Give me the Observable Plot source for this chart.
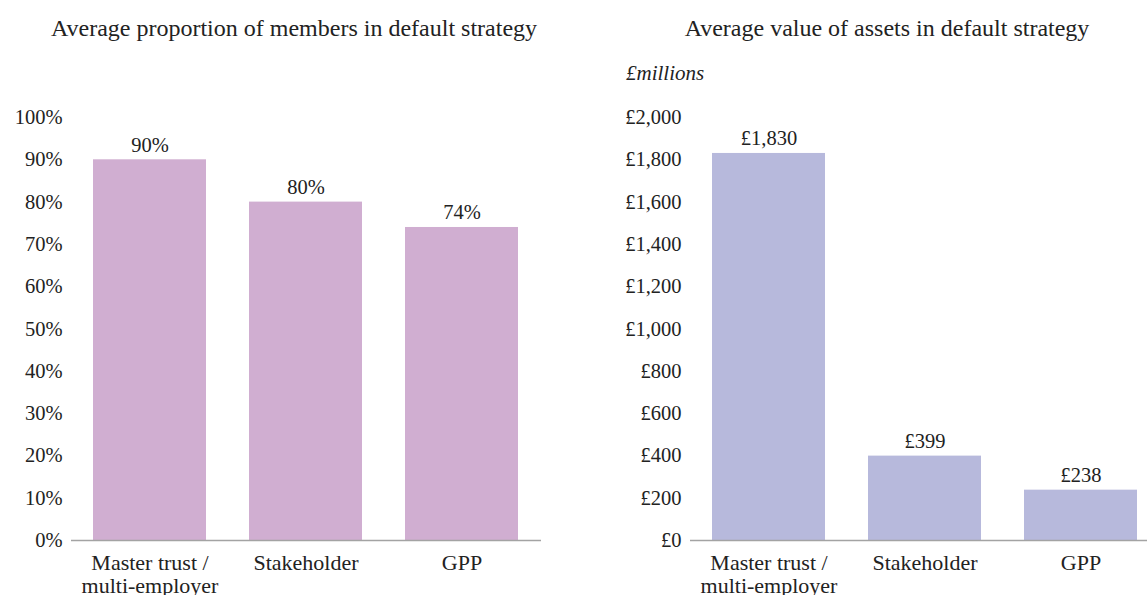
<!DOCTYPE html>
<html><head><meta charset="utf-8">
<script src="https://cdn.jsdelivr.net/npm/d3@7"></script>
<script src="https://cdn.jsdelivr.net/npm/@observablehq/plot@0.6"></script>
<style>
html,body{margin:0;padding:0;background:#fff;}
#page{position:relative;width:1147px;height:595px;overflow:hidden;font-family:"Liberation Serif",serif;color:#222;}
.sub{position:absolute;font-size:24px;line-height:24px;white-space:nowrap;transform:translateX(-50%);}
.unit{position:absolute;font-size:21px;line-height:21px;font-style:italic;white-space:nowrap;}
.panel{position:absolute;top:100px;}
#page svg{max-width:none !important;font-family:"Liberation Serif",serif !important;}
#page svg text{font-family:"Liberation Serif",serif !important;}
</style>
</head><body>
<div id="page">
  <div class="sub" style="left:294px;top:16px;">Average proportion of members in default strategy</div>
  <div class="sub" style="left:887px;top:16px;">Average value of assets in default strategy</div>
  <div class="unit" style="left:626px;top:63px;">£millions</div>
  <div class="panel" id="left" style="left:0px;width:560px;"></div>
  <div class="panel" id="right" style="left:600px;width:570px;"></div>
</div>
<script>
const categories = ["Master trust / multi-employer", "Stakeholder", "GPP"];
const categoryLabels = ["Master trust /\nmulti-employer", "Stakeholder", "GPP"];
const memberShare = [90, 80, 74];
const assetValue = [1830, 399, 238];
const shareTicks = [0, 10, 20, 30, 40, 50, 60, 70, 80, 90, 100];
const assetTicks = [0, 200, 400, 600, 800, 1000, 1200, 1400, 1600, 1800, 2000];

const labelOf = new Map(categories.map((c, i) => [c, categoryLabels[i]]));
const money = d3.format(",");
const serif = "Liberation Serif";

function panel({values, ticks, fmt, color, width, marginLeft, marginRight}) {
  const data = categories.map((c, i) => ({category: c, value: values[i]}));
  return Plot.plot({
    width, height: 495,
    marginLeft, marginRight, marginTop: 17, marginBottom: 55,
    style: {fontFamily: serif, fontSize: "20.5px", color: "#222", background: "transparent", overflow: "visible", maxWidth: "none"},
    x: {domain: categories, paddingInner: 0.274, paddingOuter: 0.134, label: null},
    y: {domain: [ticks[0], ticks[ticks.length - 1]], label: null},
    marks: [
      Plot.barY(data, {x: "category", y: "value", fill: color}),
      Plot.ruleY([0], {stroke: "#a3a3a3", strokeWidth: 1.3}),
      Plot.axisY({ticks, tickFormat: fmt, tickSize: 0, tickPadding: 9, label: null, fontSize: 20.5, fontFamily: serif}),
      Plot.axisX({tickSize: 0, tickPadding: 13, tickFormat: d => labelOf.get(d), label: null, fontSize: 22, lineHeight: 1.05, fontFamily: serif}),
      Plot.text(data, {x: "category", y: "value", text: d => fmt(d.value), dy: -8, lineAnchor: "bottom", fontSize: 20.5, fontFamily: serif, fill: "#222"})
    ]
  });
}

document.getElementById("left").append(panel({
  values: memberShare, ticks: shareTicks, fmt: d => d + "%",
  color: "#d0aed1", width: 560, marginLeft: 71, marginRight: 19
}));
document.getElementById("right").append(panel({
  values: assetValue, ticks: assetTicks, fmt: d => "£" + money(d),
  color: "#b7b9dc", width: 570, marginLeft: 90, marginRight: 10
}));
</script>
</body></html>
